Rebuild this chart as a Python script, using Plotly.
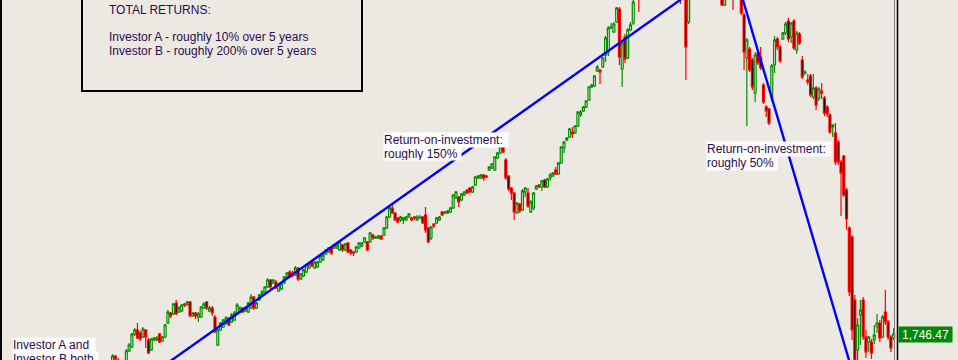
import plotly.graph_objects as go

# ---------------- data ----------------
weeks = list(range(283))

opens = [
    1542,1614,1590,1554,1566,1578,1644,1668,1746,1770,
    1752,1728,1770,1710,1650,1710,1710,1746,1704,1728,
    1812,1872,1866,1932,1878,1884,1926,1920,1938,1854,
    1872,1848,1848,1902,1938,1884,1902,1848,1680,1770,
    1788,1812,1842,1818,1830,1872,1878,1902,1884,1878,
    1902,1968,1902,1950,1980,1998,2028,2070,2052,2058,
    2004,2016,2052,2088,2118,2112,2100,2142,2076,2094,
    2118,2142,2178,2142,2148,2178,2190,2226,2238,2262,
    2262,2262,2250,2280,2250,2292,2250,2238,2238,2262,
    2274,2298,2298,2298,2340,2322,2322,2334,2340,2382,
    2448,2502,2472,2442,2430,2430,2430,2448,2442,2448,
    2430,2442,2448,2460,2382,2322,2406,2412,2430,2478,
    2472,2472,2478,2502,2562,2568,2550,2580,2610,2622,
    2598,2640,2682,2682,2700,2694,2730,2742,2730,2802,
    2832,2868,2790,2694,2622,2592,2472,2526,2490,2598,
    2592,2478,2502,2616,2640,2628,2670,2628,2682,2694,
    2730,2706,2772,2862,2910,2928,2958,2952,2994,3060,
    3084,3108,3150,3228,3234,3324,3330,3348,3420,3438,
    3582,3558,3618,3696,3336,3528,3402,3570,3612,3762,
    3834,3780,3840,3870,3822,3900,3930,3870,3918,3858,
    3900,3822,3858,3798,3834,3822,3786,3798,3618,3840,
    3900,3858,3930,3966,3900,3840,3882,3822,3780,3822,
    3798,3720,3780,3822,3768,3756,3798,3780,3660,3402,
    3456,3390,3192,3432,3408,3240,3108,3096,3162,3360,
    3516,3468,3516,3552,3624,3528,3624,3450,3546,3390,
    3312,3270,3294,3168,3222,3162,3204,3162,3108,3060,
    2988,2952,2898,2778,2814,2610,2382,2328,1950,1650,
    1860,1950,1728,1698,1698,1710,1788,1812,1728,1878,
    1818,1728,1722,
]

closes = [
    1614,1596,1554,1566,1578,1644,1680,1746,1770,1722,
    1716,1776,1728,1632,1716,1722,1722,1698,1728,1800,
    1878,1854,1926,1866,1902,1920,1920,1938,1854,1872,
    1854,1866,1908,1926,1902,1902,1872,1758,1770,1812,
    1830,1842,1800,1860,1872,1920,1902,1878,1902,1932,
    1968,1902,1932,1980,1998,2028,2070,2028,2070,2022,
    2040,2046,2088,2112,2088,2100,2142,2076,2106,2130,
    2160,2166,2154,2178,2178,2214,2220,2250,2262,2232,
    2280,2280,2298,2250,2286,2238,2232,2232,2268,2292,
    2292,2322,2250,2352,2322,2328,2334,2316,2382,2448,
    2502,2472,2430,2418,2448,2442,2448,2466,2430,2442,
    2448,2448,2412,2370,2298,2388,2394,2442,2448,2460,
    2478,2484,2502,2580,2598,2538,2586,2598,2592,2598,
    2628,2688,2694,2700,2682,2688,2748,2766,2808,2832,
    2868,2838,2682,2616,2592,2478,2532,2484,2604,2622,
    2514,2538,2592,2634,2628,2664,2628,2676,2700,2712,
    2706,2772,2868,2898,2922,2976,2946,2994,3078,3078,
    3108,3144,3228,3240,3294,3348,3318,3402,3522,3582,
    3588,3606,3702,3408,3492,3396,3570,3600,3738,3834,
    3762,3840,3882,3822,3900,3942,3870,3930,3858,3906,
    3822,3870,3798,3840,3786,3774,3762,3468,3798,3900,
    3858,3930,3978,3900,3840,3882,3822,3780,3822,3774,
    3720,3780,3822,3768,3756,3798,3762,3672,3438,3510,
    3330,3228,3420,3372,3342,3138,3084,3012,3354,3510,
    3468,3384,3552,3606,3516,3612,3462,3552,3492,3288,
    3318,3258,3180,3222,3120,3216,3192,3072,3066,2958,
    3000,2778,2778,2712,2580,2436,1998,1770,1590,1800,
    1890,1728,1638,1728,1632,1740,1812,1722,1848,1818,
    1728,1662,1746.47,
]

highs = [
    1626,1620,1602,1578,1590,1656,1692,1752,1782,1812,
    1764,1788,1776,1722,1722,1728,1734,1752,1734,1806,
    1890,1878,1932,1950,1914,1926,1932,1944,1944,1878,
    1878,1878,1914,1938,1944,1914,1914,1860,1776,1818,
    1836,1854,1848,1872,1884,1932,1914,1908,1914,1938,
    1986,1974,1938,1986,2010,2034,2082,2076,2076,2070,
    2046,2052,2094,2118,2130,2124,2154,2148,2112,2136,
    2166,2178,2184,2184,2184,2220,2226,2256,2268,2268,
    2286,2292,2304,2286,2292,2298,2256,2244,2274,2298,
    2298,2328,2304,2358,2346,2334,2340,2340,2388,2454,
    2514,2532,2478,2448,2454,2448,2454,2472,2448,2454,
    2460,2460,2454,2508,2388,2394,2412,2448,2454,2484,
    2484,2490,2508,2586,2604,2574,2592,2604,2616,2628,
    2634,2694,2700,2706,2706,2700,2754,2772,2814,2838,
    2874,2880,2802,2700,2628,2598,2538,2532,2616,2628,
    2622,2550,2598,2640,2646,2670,2676,2682,2712,2718,
    2748,2778,2874,2904,2928,2982,2988,3000,3084,3090,
    3114,3150,3234,3246,3300,3360,3336,3408,3534,3594,
    3612,3618,3708,3708,3498,3546,3582,3618,3750,3846,
    3858,3858,3900,3894,3918,3966,3954,3948,3942,3930,
    3918,3894,3882,3858,3852,3846,3798,3822,3822,3918,
    3930,3948,4002,3990,3918,3900,3906,3840,3840,3840,
    3810,3798,3840,3840,3786,3810,3822,3798,3672,3522,
    3468,3402,3438,3444,3468,3252,3120,3102,3366,3534,
    3528,3480,3558,3618,3642,3618,3636,3564,3558,3414,
    3330,3306,3306,3306,3234,3228,3252,3174,3120,3072,
    3006,3012,2910,2790,2820,2622,2394,2340,1980,1842,
    1950,1968,1770,1734,1716,1800,1866,1830,1860,2010,
    1830,1740,1782,
]

lows = [
    1518,1578,1530,1518,1542,1566,1638,1662,1734,1716,
    1704,1722,1662,1626,1644,1704,1704,1692,1698,1722,
    1806,1842,1860,1860,1872,1878,1908,1914,1848,1848,
    1836,1818,1842,1896,1890,1878,1854,1752,1674,1764,
    1782,1800,1794,1812,1824,1866,1872,1872,1878,1872,
    1896,1890,1896,1944,1974,1992,2022,2016,2046,2016,
    1998,2010,2046,2082,2082,2088,2094,2064,2070,2088,
    2112,2136,2148,2136,2142,2172,2184,2220,2232,2220,
    2256,2256,2244,2238,2244,2232,2220,2214,2232,2256,
    2268,2292,2244,2292,2310,2316,2316,2310,2334,2376,
    2442,2466,2424,2412,2418,2406,2424,2442,2424,2430,
    2424,2436,2406,2352,2292,2310,2382,2406,2424,2454,
    2466,2466,2472,2496,2556,2508,2544,2574,2586,2592,
    2592,2634,2676,2676,2664,2682,2724,2736,2724,2796,
    2826,2832,2670,2604,2550,2430,2466,2472,2484,2568,
    2502,2472,2490,2610,2622,2604,2622,2622,2664,2688,
    2700,2700,2766,2832,2904,2922,2922,2946,2988,3048,
    3078,3102,3144,3222,3228,3318,3246,3342,3378,3414,
    3576,3552,3612,3360,3228,3372,3396,3564,3600,3756,
    3678,3762,3822,3798,3810,3882,3840,3852,3834,3840,
    3798,3804,3780,3780,3768,3726,3756,3270,3606,3822,
    3834,3840,3912,3882,3822,3822,3798,3762,3768,3756,
    3714,3714,3762,3756,3690,3753,3756,3660,3330,2994,
    3318,3210,3138,3360,3330,3126,3048,3000,3138,3312,
    3450,3372,3510,3540,3498,3492,3450,3426,3480,3276,
    3300,3240,3168,3156,3090,3144,3156,3054,3048,2946,
    2928,2760,2760,2454,2568,2370,1974,1710,1530,1590,
    1680,1710,1602,1638,1596,1686,1752,1698,1722,1800,
    1710,1638,1710,
]

assert len(opens) == len(closes) == len(highs) == len(lows) == len(weeks), \
    (len(opens), len(closes), len(highs), len(lows))

# trend lines (week index, price)
trend_up_x = [15, 210]
trend_up_y = [1514, 3810]
trend_down_x = [225, 268]
trend_down_y = [3897, 1470]

last_price_label = "1,746.47"

# ---------------- style ----------------
W, H = 958, 360
BG = "#ece9e3"
GREEN = "#008f00"
RED = "#ff0000"
TXT = "#2d0a4e"
FONT = "Liberation Sans, Arial, sans-serif"

def px(x):
    return x / W

def py(y):
    return 1 - y / H

fig = go.Figure()

fig.add_trace(go.Candlestick(
    x=weeks, open=opens, high=highs, low=lows, close=closes,
    increasing=dict(line=dict(color=GREEN, width=1.2), fillcolor=BG),
    decreasing=dict(line=dict(color=RED, width=1.2), fillcolor="#000000"),
    whiskerwidth=0, hoverinfo="skip", showlegend=False,
))

fig.add_trace(go.Scatter(x=trend_up_x, y=trend_up_y, mode="lines",
                         line=dict(color="#0000ff", width=2.4), showlegend=False,
                         hoverinfo="skip"))
fig.add_trace(go.Scatter(x=trend_down_x, y=trend_down_y, mode="lines",
                         line=dict(color="#0000ff", width=2.4), showlegend=False,
                         hoverinfo="skip"))

shapes = [
    # left border
    dict(type="rect", xref="paper", yref="paper", x0=0, x1=px(2), y0=0, y1=1,
         fillcolor="#000000", line=dict(width=0), layer="above"),
    # right separator lines
    dict(type="line", xref="paper", yref="paper", x0=px(894.5), x1=px(894.5), y0=0, y1=1,
         line=dict(color="#808080", width=1)),
    dict(type="line", xref="paper", yref="paper", x0=px(897.5), x1=px(897.5), y0=0, y1=1,
         line=dict(color="#000000", width=1.5)),
    # total returns box
    dict(type="rect", xref="paper", yref="paper", x0=px(82), x1=px(362), y0=py(91), y1=py(-5),
         line=dict(color="#000000", width=2), fillcolor="rgba(0,0,0,0)", layer="above"),
]

def label(text, x, yc, width=None, bg=None, color=TXT, xanchor="left", height=14):
    d = dict(text=text, xref="paper", yref="paper", x=px(x), y=py(yc),
             xanchor=xanchor, yanchor="middle", showarrow=False, align="left",
             font=dict(family=FONT, size=12, color=color), borderpad=0,
             height=height)
    if width is not None:
        d["width"] = width
    if bg is not None:
        d["bgcolor"] = bg
    return d

annotations = [
    label("TOTAL RETURNS:", 108, 9.7),
    label("Investor A - roughly 10% over 5 years", 108, 37.5),
    label("Investor B - roughly 200% over 5 years", 108, 51.5),
    label("Return-on-investment:", 383, 139.7, width=124, bg="#ffffff"),
    label("roughly 150%", 383, 153.4, width=77, bg="#ffffff", height=13),
    label("Return-on-investment:", 706, 149, width=124, bg="#ffffff"),
    label("roughly 50%", 706, 163, width=70, bg="#ffffff"),
    label("Investor A and", 12, 345, width=82, bg="#ffffff"),
    label("Investor B both", 12, 359, width=85, bg="#ffffff"),
    dict(text=last_price_label, xref="paper", yref="paper", x=px(898), y=py(334.5),
         xanchor="left", yanchor="middle", showarrow=False, align="center",
         font=dict(family=FONT, size=12, color="#ffffff"), bgcolor="#008a00",
         borderpad=0, width=53, height=15),
]

fig.update_layout(
    width=W, height=H,
    margin=dict(l=0, r=0, t=0, b=0, pad=0),
    paper_bgcolor=BG, plot_bgcolor=BG,
    showlegend=False,
    boxgap=0.0,
    xaxis=dict(visible=False, range=[-40.61, 305.23], rangeslider=dict(visible=False),
               fixedrange=True),
    yaxis=dict(visible=False, range=[1590, 3750], fixedrange=True),
    shapes=shapes,
    annotations=annotations,
    font=dict(family=FONT),
)

fig.write_html("out.html")
